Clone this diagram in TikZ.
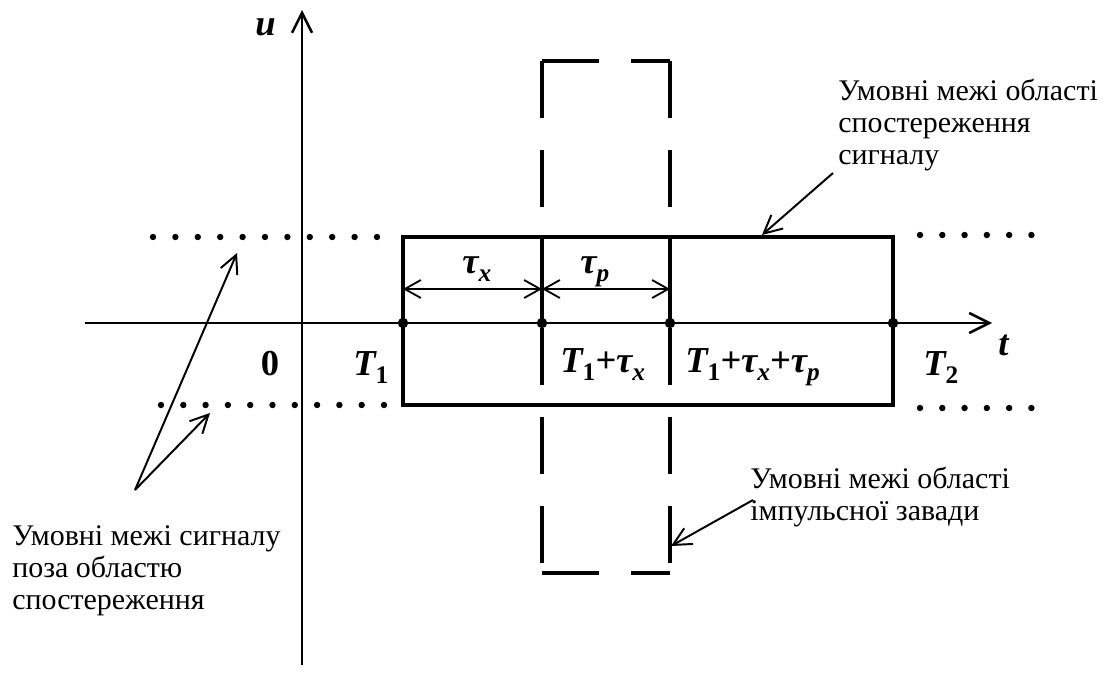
\documentclass[tikz,border=0pt]{standalone}
\usepackage{fontspec}
\setmainfont{Liberation Serif}
\usetikzlibrary{arrows.meta}
\newcommand\lsub[1]{\raisebox{-0.22em}{\fontsize{18}{18}\selectfont #1}}

\begin{document}
\begin{tikzpicture}[
  lbl/.style={font=\fontsize{26}{30}\selectfont\bfseries\itshape, inner sep=0pt, anchor=base west},
  note/.style={font=\fontsize{21.3}{22.8}\selectfont, align=left, inner sep=0pt, anchor=north west},
  axis/.style={line width=1.8pt, -{Straight Barb[length=5mm,width=5mm]}},
  box/.style={line width=2.6pt},
  gate/.style={line width=2.6pt, dash pattern=on 1.425cm off 0.8cm},
  dimline/.style={line width=1.3pt, {Straight Barb[length=4mm,width=4.5mm]}-{Straight Barb[length=4mm,width=4.5mm]}},
  callout/.style={line width=1.4pt, -{Straight Barb[length=4.5mm,width=4.5mm]}},
  tdot/.style={circle, fill, inner sep=0pt, minimum size=2.6mm}
]
\useasboundingbox (-7.55,-8.8) rectangle (20.025,8.075);

% axes
\draw[axis] (0,-8.55) -- (0,7.825);
\draw[axis] (-5.425,0) -- (17.25,0);

% dotted limits outside the window
\foreach \i in {0,...,10} {
  \fill (-3.725+0.56*\i, 2.15) circle (0.08);
  \fill (-3.525+0.5575*\i, -2.05) circle (0.08);
}
\foreach \i in {0,...,5} {
  \fill (15.45+0.557*\i, 2.2) circle (0.08);
  \fill (15.45+0.557*\i, -2.125) circle (0.08);
}

% observation window
\draw[box] (2.525,-2.05) rectangle (14.775,2.15);

% impulse noise window
\draw[gate] (6.0,6.55) -- (9.2,6.55);
\draw[gate] (6.0,-6.25) -- (9.2,-6.25);
\draw[gate] (6.0,6.55) -- (6.0,-6.25);
\draw[gate] (9.2,6.55) -- (9.2,-6.25);

% points on the time axis
\node[tdot] (t1) at (2.525,0) {};
\node[tdot] (t1x) at (6.0,0) {};
\node[tdot] (t1xp) at (9.2,0) {};
\node[tdot] (t2) at (14.775,0) {};

\draw[box] (6.0,2.15) -- (t1x.center);
\draw[box] (9.2,2.15) -- (t1xp.center);

\coordinate (d0) at (2.525,0.85);
\coordinate (d1) at (6.0,0.85);
\coordinate (d2) at (9.2,0.85);
\draw[dimline] (d0) -- (d1);
\draw[dimline] (d1) -- (d2);

% labels
\node[lbl] (tx) at (4.0,1.25) {τ\lsub{x}};
\node[lbl] (tp) at (6.95,1.25) {τ\lsub{p}};
\node[lbl, anchor=base] (zero) at (-0.8,-1.3) {\textup{0}};
\node[lbl] (lt1) at (1.275,-1.3) {T\lsub{\textup{1}}};
\node[lbl] (lt1x) at (6.45,-1.225) {T\lsub{\textup{1}}+τ\lsub{x}};
\node[lbl] (lt1xp) at (9.575,-1.225) {T\lsub{\textup{1}}+τ\lsub{x}+τ\lsub{p}};
\node[lbl] (lt2) at (15.525,-1.3) {T\lsub{\textup{2}}};
\node[lbl] (lt) at (17.4,-0.8) {t};
\node[lbl] (lu) at (-1.175,7.2) {u};

% notes
\node[note] (obs) at (13.4,6.1) {Умовні межі області\\спостереження\\сигналу};
\node[note] (imp) at (11.2,-3.6) {Умовні межі області\\імпульсної завади};
\node[note] (out) at (-7.25,-5.05) {Умовні межі сигналу\\поза областю\\спостереження};

\coordinate (a1) at (13.275,3.75);
\coordinate (a1e) at (11.5,2.2);
\coordinate (a2) at (11.275,-4.425);
\coordinate (a2e) at (9.225,-5.575);
\coordinate (a3) at (-4.175,-4.175);
\coordinate (a3u) at (-1.625,1.75);
\coordinate (a3d) at (-2.3,-2.25);
\draw[callout] (a1) -- (a1e);
\draw[callout] (a2) -- (a2e);
\draw[callout] (a3) -- (a3u);
\draw[callout] (a3) -- (a3d);

\end{tikzpicture}
\end{document}
